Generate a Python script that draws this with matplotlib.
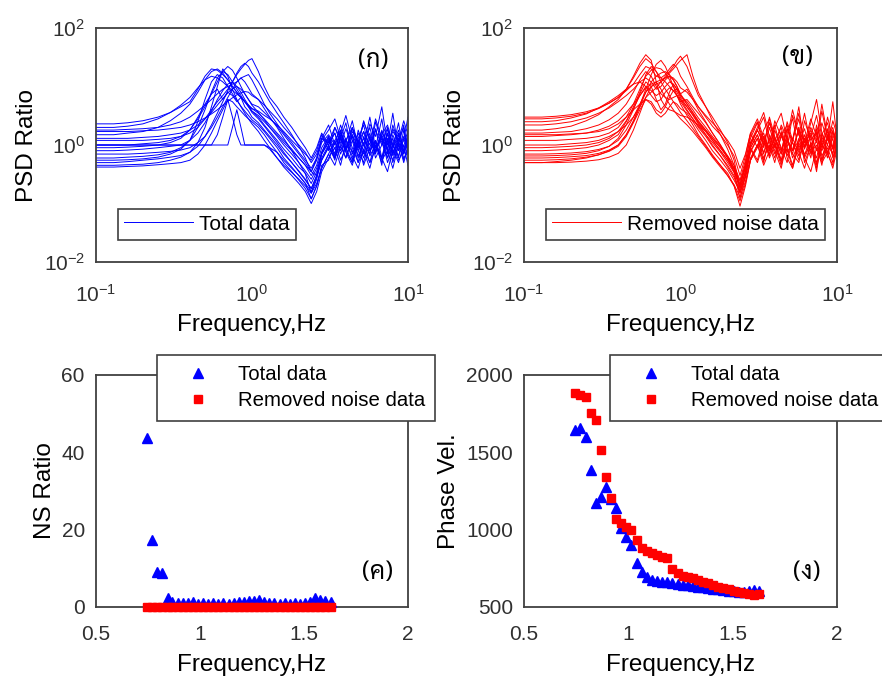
import matplotlib
matplotlib.use("Agg")
import matplotlib.pyplot as plt

plt.rcParams['font.family'] = ['Liberation Sans', 'DejaVu Sans']
plt.rcParams['mathtext.fontset'] = 'custom'
plt.rcParams['mathtext.rm'] = 'Liberation Sans'
plt.rcParams['mathtext.it'] = 'Liberation Sans'

# frequency grid of the PSD ratio curves (Hz)
psd_freq = [0.10, 0.13, 0.16, 0.20, 0.25, 0.30, 0.35, 0.40, 0.45, 0.50,
            0.55, 0.60, 0.65, 0.70, 0.75, 0.80, 0.85, 0.90, 0.95, 1.00,
            1.10, 1.20, 1.30, 1.45, 1.60, 1.80, 2.00, 2.20, 2.40, 2.60,
            2.80, 3.10, 3.40, 3.70, 4.00, 4.40, 4.80, 5.20, 5.70, 6.20,
            6.80, 7.40, 8.00, 8.70, 9.40, 10.0]

# PSD ratio, total data (one row per record)
psd_total = [
    [1.5, 1.5, 1.6, 1.7, 2.0, 2.6, 3.5, 5.0, 8.0, 13, 18, 20, 17, 13, 10, 8.0, 6.5, 5.5, 4.8, 4.2, 3.5, 2.8, 2.2, 1.6, 1.2, 0.85, 0.60, 0.45, 0.30, 0.45, 0.90, 1.4, 0.70, 1.8, 0.90, 0.50, 1.3, 2.2, 0.80, 1.1, 0.60, 1.6, 0.90, 2.4, 0.70, 1.2],
    [0.80, 0.80, 0.82, 0.85, 0.90, 0.95, 1.0, 1.2, 1.6, 2.4, 3.8, 6.0, 8.5, 11, 12, 10, 8.0, 6.0, 4.8, 3.8, 3.0, 2.2, 1.7, 1.2, 0.85, 0.60, 0.42, 0.33, 0.22, 0.35, 0.70, 1.1, 1.6, 0.70, 1.2, 2.0, 0.80, 0.50, 1.4, 0.90, 2.8, 0.70, 1.3, 0.60, 1.8, 0.90],
    [2.0, 2.0, 2.1, 2.3, 2.8, 3.6, 4.8, 6.5, 9.5, 13, 15, 14, 12, 10, 8.5, 7.5, 6.5, 5.5, 4.8, 4.2, 3.8, 3.2, 2.8, 2.2, 1.7, 1.2, 0.90, 0.70, 0.55, 0.80, 1.5, 0.80, 2.0, 1.1, 0.60, 1.5, 0.90, 2.6, 1.2, 0.70, 1.7, 1.0, 3.5, 0.80, 1.4, 0.90],
    [0.50, 0.50, 0.52, 0.55, 0.58, 0.62, 0.66, 0.75, 0.95, 1.4, 2.2, 3.5, 5.5, 8.5, 12, 17, 22, 25, 22, 17, 12, 8.0, 5.5, 3.5, 2.4, 1.5, 0.95, 0.60, 0.35, 0.30, 0.55, 0.90, 0.60, 1.3, 2.4, 0.70, 1.1, 0.45, 0.90, 1.9, 0.60, 1.3, 0.50, 1.0, 2.2, 0.70],
    [1.2, 1.2, 1.2, 1.2, 1.25, 1.3, 1.4, 1.6, 2.0, 2.8, 4.0, 5.5, 7.0, 9.0, 12, 16, 20, 24, 28, 30, 18, 10, 6.5, 4.5, 3.0, 2.0, 1.3, 0.90, 0.60, 0.90, 1.6, 1.0, 1.6, 0.80, 1.3, 0.55, 1.8, 1.0, 0.70, 2.5, 1.1, 0.60, 1.5, 0.80, 1.2, 3.0],
    [1.0, 1.0, 1.0, 1.0, 1.0, 1.0, 1.0, 1.0, 1.0, 1.0, 1.0, 1.5, 3.0, 6.0, 3.0, 1.5, 1.0, 1.0, 1.0, 1.0, 1.0, 1.0, 0.90, 0.75, 0.55, 0.40, 0.30, 0.22, 0.12, 0.20, 0.45, 0.55, 1.2, 1.8, 0.80, 1.4, 0.60, 1.0, 2.0, 0.80, 1.3, 0.50, 0.90, 1.6, 0.70, 1.1],
    [0.60, 0.60, 0.62, 0.64, 0.68, 0.75, 0.90, 1.2, 2.0, 4.0, 8.0, 14, 18, 16, 12, 9.0, 7.0, 5.5, 4.5, 3.6, 2.8, 2.1, 1.6, 1.1, 0.75, 0.50, 0.35, 0.25, 0.18, 0.30, 0.75, 1.3, 0.60, 1.0, 1.9, 0.90, 0.50, 1.4, 0.80, 1.2, 0.45, 1.9, 1.0, 0.65, 1.3, 0.80],
    [1.3, 1.3, 1.3, 1.35, 1.4, 1.5, 1.6, 1.8, 2.2, 2.8, 3.6, 4.8, 6.2, 7.8, 9.2, 10, 9.0, 7.5, 6.0, 5.0, 4.5, 3.6, 2.9, 2.1, 1.5, 1.0, 0.70, 0.50, 0.35, 0.55, 1.1, 1.5, 1.0, 2.2, 1.2, 0.75, 1.6, 1.0, 3.0, 0.90, 1.5, 0.80, 2.2, 1.1, 0.75, 1.6],
    [0.42, 0.42, 0.43, 0.44, 0.46, 0.48, 0.50, 0.55, 0.70, 1.0, 1.6, 2.6, 4.0, 6.0, 5.5, 4.5, 3.8, 3.2, 2.8, 2.5, 2.0, 1.5, 1.1, 0.75, 0.50, 0.35, 0.25, 0.18, 0.12, 0.20, 0.40, 0.70, 0.45, 0.95, 0.60, 1.2, 0.50, 0.80, 0.40, 1.0, 0.60, 0.35, 0.85, 0.50, 1.0, 0.45],
    [2.3, 2.3, 2.4, 2.6, 3.0, 3.6, 4.5, 5.5, 9.0, 15, 20, 19, 16, 13, 10, 8.0, 6.5, 5.5, 4.5, 3.8, 3.2, 2.5, 2.0, 1.5, 1.1, 0.80, 0.60, 0.45, 0.35, 0.60, 1.2, 1.8, 2.8, 1.3, 0.85, 1.9, 1.2, 0.80, 2.3, 1.4, 4.5, 1.0, 1.7, 1.2, 2.6, 1.5],
    [0.70, 0.70, 0.70, 0.72, 0.75, 0.78, 0.82, 0.90, 1.1, 1.4, 2.0, 3.0, 4.5, 6.5, 9.0, 12, 14, 12, 9.5, 7.5, 6.0, 4.2, 3.0, 2.0, 1.3, 0.80, 0.50, 0.32, 0.15, 0.22, 0.40, 0.70, 1.2, 0.55, 0.90, 1.5, 0.65, 1.1, 0.50, 0.85, 1.4, 0.60, 1.0, 0.55, 0.80, 1.3],
    [1.0, 1.0, 1.0, 1.05, 1.1, 1.2, 1.4, 1.8, 2.8, 4.5, 7.5, 12, 18, 22, 19, 14, 10, 7.5, 6.0, 4.8, 3.6, 2.7, 2.0, 1.4, 1.0, 0.70, 0.50, 0.36, 0.26, 0.40, 0.75, 1.4, 0.85, 1.6, 1.1, 2.6, 0.90, 1.3, 0.70, 1.8, 1.0, 2.0, 0.70, 1.3, 0.95, 1.8],
    [1.7, 1.7, 1.7, 1.75, 1.8, 1.9, 2.0, 2.2, 2.5, 2.9, 3.4, 4.0, 4.8, 5.6, 6.4, 7.2, 7.8, 8.2, 8.0, 7.0, 6.0, 4.8, 3.8, 2.8, 2.0, 1.4, 1.0, 0.75, 0.50, 0.70, 1.3, 1.1, 2.0, 1.3, 0.80, 1.7, 1.1, 2.5, 1.3, 0.75, 1.5, 2.2, 1.0, 1.8, 0.80, 1.4],
    [0.55, 0.55, 0.56, 0.58, 0.62, 0.70, 0.85, 1.2, 2.5, 6.0, 12, 16, 14, 10, 7.5, 5.8, 4.6, 3.8, 3.2, 2.7, 2.2, 1.7, 1.3, 0.90, 0.60, 0.42, 0.30, 0.22, 0.16, 0.28, 0.55, 0.95, 0.60, 1.3, 0.75, 0.45, 1.1, 1.7, 0.65, 1.0, 0.50, 1.2, 0.70, 1.5, 0.55, 0.95],
    [0.90, 0.90, 0.92, 0.95, 1.0, 1.1, 1.3, 1.8, 3.0, 5.0, 7.5, 9.0, 6.0, 8.0, 7.0, 5.5, 6.5, 4.5, 3.8, 3.0, 2.4, 1.8, 1.4, 1.0, 0.70, 0.50, 0.36, 0.26, 0.18, 0.30, 0.70, 1.2, 0.65, 1.5, 0.85, 2.0, 1.1, 0.60, 1.3, 0.75, 1.8, 0.90, 0.55, 1.2, 2.0, 0.80],
    [1.8, 1.8, 1.85, 1.9, 2.0, 2.2, 2.5, 3.0, 3.8, 4.8, 6.0, 7.5, 9.0, 10, 11, 12, 14, 15, 16, 13, 8.0, 5.0, 3.5, 2.3, 1.6, 1.1, 0.75, 0.55, 0.40, 0.60, 1.3, 2.2, 1.0, 1.6, 3.2, 1.2, 0.80, 1.7, 1.0, 2.8, 1.3, 0.85, 1.9, 1.1, 0.75, 1.4],
    [1.0, 1.0, 1.0, 1.0, 1.0, 1.0, 1.0, 1.0, 1.0, 1.0, 1.0, 1.0, 1.0, 1.0, 2.0, 4.0, 2.0, 1.0, 1.0, 1.0, 1.0, 1.0, 0.85, 0.60, 0.45, 0.34, 0.26, 0.20, 0.15, 0.26, 0.60, 1.0, 0.55, 1.4, 0.80, 0.50, 1.2, 0.70, 1.6, 0.60, 1.0, 1.5, 0.65, 1.1, 0.50, 0.90],
    [0.45, 0.45, 0.46, 0.47, 0.50, 0.55, 0.62, 0.75, 1.1, 2.0, 4.5, 10, 20, 15, 9.0, 6.0, 4.5, 3.5, 2.8, 2.3, 1.7, 1.2, 0.90, 0.60, 0.42, 0.30, 0.22, 0.16, 0.10, 0.16, 0.35, 0.60, 0.90, 0.45, 1.1, 0.65, 0.40, 0.85, 0.50, 1.2, 0.55, 0.80, 0.40, 1.0, 0.60, 0.75],
]

# PSD ratio, removed noise data
psd_removed = [
    [3.0, 3.0, 3.1, 3.3, 3.7, 4.3, 5.2, 6.5, 9.0, 14, 22, 30, 25, 18, 14, 12, 10, 8.5, 7.0, 5.5, 6.0, 4.5, 3.5, 2.4, 1.6, 1.0, 0.65, 0.40, 0.20, 0.50, 1.5, 2.5, 0.90, 3.0, 1.4, 0.70, 2.5, 1.2, 4.5, 0.90, 1.8, 1.1, 3.8, 1.3, 0.70, 2.0],
    [0.50, 0.50, 0.52, 0.55, 0.60, 0.68, 0.80, 1.0, 1.5, 2.5, 4.5, 8.0, 12, 15, 17, 18, 16, 13, 10, 7.5, 9.0, 6.0, 4.0, 2.5, 1.6, 1.0, 0.60, 0.35, 0.12, 0.30, 0.80, 1.3, 0.50, 1.5, 0.80, 0.40, 1.2, 0.70, 2.0, 0.50, 1.0, 0.35, 1.4, 0.70, 0.45, 1.1],
    [1.8, 1.8, 1.9, 2.1, 2.6, 3.3, 4.5, 6.0, 9.0, 15, 25, 35, 28, 12, 6.0, 4.5, 4.0, 3.8, 3.5, 3.2, 3.0, 2.6, 2.2, 1.7, 1.2, 0.80, 0.55, 0.35, 0.20, 0.45, 1.1, 1.8, 3.0, 1.1, 0.60, 1.4, 2.2, 0.80, 1.2, 3.5, 1.0, 0.60, 1.5, 2.4, 0.90, 1.6],
    [1.0, 1.0, 1.0, 1.05, 1.1, 1.2, 1.4, 1.7, 2.2, 3.0, 4.5, 6.5, 8.0, 9.5, 12, 15, 18, 22, 28, 33, 22, 12, 7.0, 4.5, 3.0, 1.8, 1.1, 0.55, 0.18, 0.35, 0.90, 1.5, 0.70, 2.0, 1.0, 0.55, 1.6, 2.8, 0.80, 1.3, 0.60, 2.2, 1.0, 0.70, 1.7, 1.0],
    [0.65, 0.65, 0.66, 0.68, 0.72, 0.80, 0.95, 1.3, 2.2, 4.0, 7.5, 12, 10, 6.0, 4.0, 5.0, 8.0, 11, 9.0, 6.5, 4.5, 3.2, 2.3, 1.5, 1.0, 0.65, 0.42, 0.28, 0.15, 0.30, 0.85, 0.50, 1.1, 0.65, 1.8, 0.90, 0.50, 1.3, 0.75, 0.40, 1.0, 1.6, 0.55, 0.90, 0.50, 1.3],
    [2.2, 2.2, 2.3, 2.5, 2.9, 3.5, 4.3, 5.5, 7.0, 9.0, 12, 14, 12, 9.0, 10, 13, 15, 13, 10, 7.0, 5.0, 3.6, 2.6, 1.8, 1.3, 0.90, 0.65, 0.45, 0.25, 0.55, 1.3, 2.4, 1.2, 0.80, 2.6, 1.4, 0.90, 3.2, 1.5, 0.85, 2.0, 1.2, 5.0, 1.4, 0.90, 2.2],
    [0.80, 0.80, 0.82, 0.85, 0.90, 1.0, 1.2, 1.5, 2.5, 4.5, 8.0, 16, 22, 18, 12, 9.0, 7.0, 5.5, 4.5, 3.6, 2.6, 1.9, 1.4, 0.95, 0.65, 0.45, 0.33, 0.20, 0.09, 0.20, 0.55, 1.0, 1.6, 0.70, 1.1, 0.50, 1.3, 0.80, 2.0, 0.60, 1.1, 0.45, 1.6, 0.75, 1.3, 0.55],
    [1.4, 1.4, 1.45, 1.5, 1.6, 1.8, 2.1, 2.6, 3.6, 5.0, 7.0, 9.5, 11, 12, 13, 14, 15, 14, 12, 9.5, 8.0, 6.0, 4.5, 3.2, 2.4, 1.7, 1.2, 0.80, 0.40, 0.70, 1.6, 0.90, 1.8, 2.8, 1.0, 1.6, 0.65, 1.2, 3.5, 1.1, 1.6, 0.80, 2.4, 1.2, 5.5, 1.3],
    [0.55, 0.55, 0.56, 0.58, 0.62, 0.68, 0.78, 0.95, 1.4, 2.4, 4.0, 6.0, 5.0, 3.5, 3.0, 3.5, 4.5, 5.5, 5.0, 4.2, 3.5, 2.5, 1.8, 1.2, 0.80, 0.55, 0.38, 0.25, 0.16, 0.28, 0.60, 1.0, 0.45, 0.80, 1.3, 0.55, 0.85, 0.40, 1.0, 0.60, 0.35, 0.90, 0.50, 0.75, 0.40, 0.85],
    [2.8, 2.8, 2.9, 3.1, 3.5, 4.2, 5.2, 6.5, 8.5, 11, 16, 22, 20, 15, 14, 16, 20, 24, 21, 15, 10, 6.5, 4.5, 3.0, 2.1, 1.5, 1.0, 0.65, 0.30, 0.65, 1.6, 2.8, 1.3, 0.90, 2.0, 3.5, 1.2, 0.80, 1.8, 1.1, 2.8, 1.4, 0.90, 3.0, 1.3, 1.8],
    [1.2, 1.2, 1.2, 1.25, 1.3, 1.4, 1.6, 2.0, 3.0, 5.0, 9.0, 15, 19, 21, 20, 17, 13, 10, 8.0, 6.0, 4.0, 2.8, 2.0, 1.4, 0.95, 0.65, 0.45, 0.30, 0.16, 0.35, 0.90, 1.5, 0.75, 1.2, 2.2, 0.80, 1.4, 0.60, 1.1, 1.9, 0.70, 1.2, 0.55, 1.5, 0.85, 1.2],
    [0.70, 0.70, 0.71, 0.73, 0.77, 0.84, 0.95, 1.2, 1.8, 3.0, 5.0, 8.0, 10, 11, 12, 14, 17, 20, 24, 28, 35, 15, 8.0, 4.5, 2.6, 1.5, 0.85, 0.45, 0.15, 0.30, 0.75, 1.3, 0.60, 1.0, 0.50, 1.5, 0.90, 0.45, 1.3, 0.70, 1.0, 0.40, 1.1, 0.60, 1.8, 0.70],
    [1.6, 1.6, 1.65, 1.7, 1.9, 2.2, 2.7, 3.5, 5.0, 8.0, 13, 18, 15, 10, 7.5, 6.5, 6.0, 6.5, 7.0, 6.0, 4.5, 3.3, 2.4, 1.7, 1.2, 0.80, 0.55, 0.38, 0.22, 0.40, 1.0, 1.8, 1.0, 2.4, 1.3, 0.70, 1.9, 1.1, 0.65, 2.6, 1.2, 1.7, 0.80, 1.3, 2.0, 1.0],
    [0.90, 0.90, 0.92, 0.95, 1.0, 1.1, 1.3, 1.7, 2.6, 4.2, 7.0, 10, 8.5, 7.0, 8.0, 10, 12, 11, 9.0, 7.0, 5.5, 4.0, 2.9, 2.0, 1.4, 0.95, 0.62, 0.40, 0.18, 0.36, 0.90, 0.55, 1.4, 0.85, 1.2, 2.0, 0.75, 1.1, 0.55, 1.5, 0.80, 1.9, 0.65, 1.0, 0.70, 1.4],
    [2.5, 2.5, 2.6, 2.9, 3.4, 4.3, 5.5, 7.0, 9.0, 11, 12, 10, 7.0, 5.5, 6.0, 8.0, 9.5, 8.5, 7.0, 5.5, 3.8, 2.8, 2.1, 1.5, 1.1, 0.75, 0.50, 0.34, 0.20, 0.42, 1.1, 2.0, 3.6, 1.4, 0.90, 2.2, 1.3, 4.0, 1.5, 0.95, 2.4, 6.0, 1.6, 1.0, 2.6, 1.5],
    [0.60, 0.60, 0.61, 0.63, 0.66, 0.72, 0.82, 1.0, 1.5, 2.6, 4.8, 9.0, 16, 24, 28, 22, 15, 10, 7.0, 5.0, 3.2, 2.2, 1.5, 1.0, 0.68, 0.45, 0.30, 0.20, 0.11, 0.22, 0.55, 1.0, 0.55, 1.3, 0.70, 1.7, 0.60, 0.40, 1.1, 0.65, 1.5, 0.50, 0.85, 1.9, 0.60, 1.0],
    [1.5, 1.5, 1.5, 1.55, 1.6, 1.7, 1.9, 2.3, 3.0, 4.0, 5.0, 6.0, 5.5, 4.0, 3.5, 4.5, 6.5, 8.5, 9.0, 7.5, 5.0, 3.5, 2.5, 1.8, 1.3, 0.90, 0.60, 0.40, 0.24, 0.45, 1.0, 1.8, 1.1, 2.4, 1.3, 0.80, 1.9, 1.2, 2.8, 0.90, 1.4, 3.2, 1.1, 1.7, 0.85, 1.3],
    [0.50, 0.50, 0.50, 0.51, 0.53, 0.56, 0.62, 0.72, 1.0, 1.8, 3.5, 6.5, 10, 12, 9.0, 6.5, 5.0, 4.0, 3.3, 2.8, 2.2, 1.7, 1.3, 0.90, 0.62, 0.42, 0.30, 0.21, 0.13, 0.24, 0.55, 0.90, 1.4, 0.60, 1.0, 0.45, 1.2, 0.70, 0.50, 1.3, 0.75, 1.0, 0.45, 1.4, 0.65, 0.80],
]

# dispersion points (Hz)
disp_freq = [0.746, 0.770, 0.795, 0.819, 0.844, 0.868, 0.893, 0.917, 0.942, 0.966,
             0.991, 1.015, 1.040, 1.064, 1.089, 1.113, 1.138, 1.162, 1.187, 1.211,
             1.236, 1.260, 1.285, 1.309, 1.334, 1.358, 1.383, 1.407, 1.432, 1.456,
             1.481, 1.505, 1.530, 1.554, 1.579, 1.603, 1.628]

ns_total = [43.6, 17.3, 9.0, 8.8, 2.2, 1.2, 1.0, 1.1, 1.0, 1.2,
            0.9, 1.0, 0.9, 1.0, 0.9, 1.0, 0.9, 1.0, 1.4, 1.3,
            1.5, 1.6, 1.8, 1.4, 1.0, 1.1, 0.9, 1.0, 0.9, 1.0,
            0.9, 1.0, 1.2, 2.3, 1.8, 1.5, 1.2]
ns_removed = [0.1] * len(disp_freq)

vel_total = [1645, 1656, 1602, 1386, 1171, 1214, 1279, 1200, 1139, 1009,
             955, 901, 783, 728, 692, 675, 668, 664, 660, 655,
             650, 645, 640, 636, 632, 627, 622, 618, 614, 610,
             606, 602, 600, 598, 605, 610, 605]
vel_removed = [1883, 1872, 1857, 1757, 1710, 1516, 1339, 1203, 1067, 1041,
               1020, 998, 933, 880, 864, 847, 836, 825, 815, 744,
               718, 700, 693, 685, 672, 662, 652, 642, 632, 623,
               614, 606, 598, 590, 582, 578, 585]

panel_tags = ['(ก)', '(ข)', '(ค)', '(ง)']

thai_family = ['Sarabun', 'IBM Plex Sans Thai Looped', 'Noto Sans Thai', 'Liberation Sans']

EDGE = '#404040'
TICK = 15
LABEL = 17.5


def style_axes(ax, xpad):
    for s in ax.spines.values():
        s.set_color(EDGE)
        s.set_linewidth(1.3)
    ax.tick_params(length=0, labelsize=TICK, colors='#303030')
    ax.tick_params(axis='x', pad=xpad)
    ax.tick_params(axis='y', pad=8)


fig = plt.figure(figsize=(8.82, 6.77), dpi=100)
ax1 = fig.add_axes([0.1088, 0.613, 0.3537, 0.3456])
ax2 = fig.add_axes([0.5941, 0.613, 0.3549, 0.3456])
ax3 = fig.add_axes([0.1088, 0.1034, 0.3537, 0.3427])
ax4 = fig.add_axes([0.5941, 0.1034, 0.3549, 0.3427])

for ax, rows, color, name in [(ax1, psd_total, 'blue', 'Total data'),
                              (ax2, psd_removed, 'red', 'Removed noise data')]:
    for i, row in enumerate(rows):
        ax.plot(psd_freq, row, color=color, lw=0.7,
                label=name if i == 0 else None)
    ax.set_xscale('log')
    ax.set_yscale('log')
    ax.set_xlim(0.1, 10)
    ax.set_ylim(0.01, 100)
    ax.set_xticks([0.1, 1, 10])
    ax.set_yticks([0.01, 1, 100])
    ax.minorticks_off()
    ax.set_xlabel('Frequency,Hz', fontsize=LABEL, labelpad=6)
    ax.set_ylabel('PSD Ratio', fontsize=LABEL)
    style_axes(ax, 16)
    leg = ax.legend(loc='lower left', bbox_to_anchor=(0.07, 0.094), borderaxespad=0,
                    fontsize=15, handlelength=3.3, handletextpad=0.3,
                    fancybox=False, edgecolor=EDGE, framealpha=1, borderpad=0.3)
    leg.get_frame().set_linewidth(1.2)

for ax, tot, rem, ylab, ylim, yt in [
        (ax3, ns_total, ns_removed, 'NS Ratio', (0, 60), [0, 20, 40, 60]),
        (ax4, vel_total, vel_removed, 'Phase Vel.', (500, 2000), [500, 1000, 1500, 2000])]:
    ax.plot(disp_freq, tot, ls='none', marker='^', ms=6.5, color='blue',
            mec='blue', label='Total data', clip_on=False, zorder=3)
    ax.plot(disp_freq, rem, ls='none', marker='s', ms=5.5, color='red',
            mec='red', label='Removed noise data', clip_on=False, zorder=3)
    ax.set_xlim(0.5, 2)
    ax.set_ylim(*ylim)
    ax.set_xticks([0.5, 1, 1.5, 2])
    ax.set_xticklabels(['0.5', '1', '1.5', '2'])
    ax.set_yticks(yt)
    ax.set_xlabel('Frequency,Hz', fontsize=LABEL, labelpad=7)
    ax.set_ylabel(ylab, fontsize=LABEL)
    style_axes(ax, 13)

leg_kw = dict(borderaxespad=0, fontsize=14.7, handlelength=3.04, handletextpad=0.4,
              numpoints=1, fancybox=False, edgecolor=EDGE, framealpha=1,
              borderpad=0.5, labelspacing=0.35)
leg3 = ax3.legend(loc='upper right', bbox_to_anchor=(1.087, 1.086), **leg_kw)
leg3.get_frame().set_linewidth(1.2)
leg4 = ax4.legend(loc='upper left', bbox_to_anchor=(0.275, 1.086), **leg_kw)
leg4.get_frame().set_linewidth(1.2)

for ax, tag, (tx, ty) in zip([ax1, ax2, ax3, ax4], panel_tags,
                             [(0.888, 0.863), (0.875, 0.876), (0.903, 0.147), (0.904, 0.147)]):
    ax.text(tx, ty, tag, transform=ax.transAxes, ha='center', va='center',
            fontsize=18, family=thai_family)

fig.savefig('out.png', dpi=100)
